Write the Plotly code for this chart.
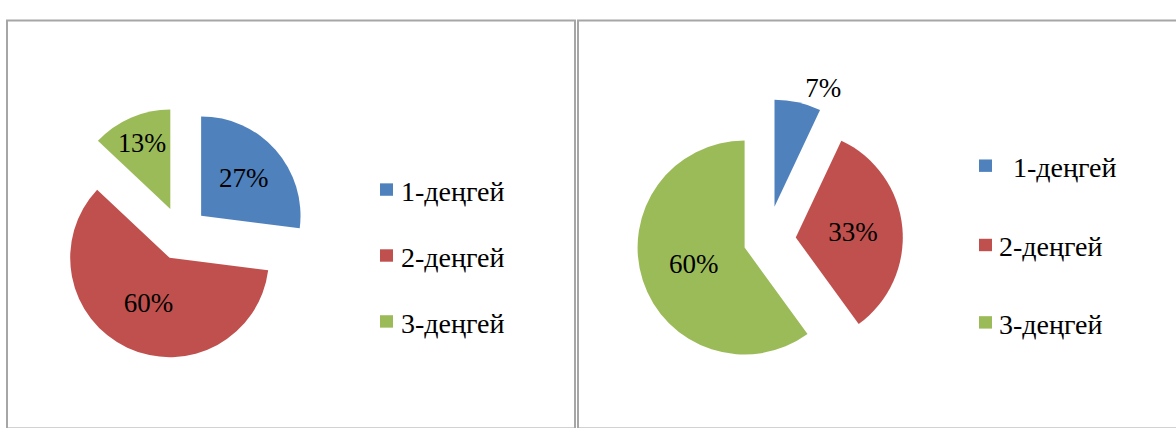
import plotly.graph_objects as go

# ---- data ----
categories = ["1-деңгей", "2-деңгей", "3-деңгей"]
left_values = [27, 60, 13]
right_values = [7, 33, 60]
right_legend_labels = ["\u00a0\u00a01-деңгей", "2-деңгей", "3-деңгей"]

# ---- styles ----
colors = ["#4F81BD", "#C0504D", "#9BBB59"]
left_pull = [0.27, 0.27, 0.27]
right_pull = [0.32, 0.27, 0.22]
W, H = 1176, 428
FONT = "Liberation Serif"


def px_x(x):
    return x / W


def px_y(y):
    return 1 - y / H


def square_domain(cx, cy, r, pull):
    half = r * (1 + max(pull))
    return dict(x=[px_x(cx - half), px_x(cx + half)],
                y=[px_y(cy + half), px_y(cy - half)])


fig = go.Figure()

fig.add_trace(go.Pie(
    labels=categories, values=left_values, sort=False, direction="clockwise",
    rotation=0, pull=left_pull,
    marker=dict(colors=colors, line=dict(width=0)),
    texttemplate="%{percent:.0%}", textposition="inside",
    insidetextorientation="horizontal",
    textfont=dict(family=FONT, size=27, color="black"),
    domain=square_domain(181, 236, 104, left_pull),
    showlegend=False, hoverinfo="label+percent",
))

fig.add_trace(go.Pie(
    labels=categories, values=right_values, sort=False, direction="clockwise",
    rotation=0, pull=right_pull,
    marker=dict(colors=colors, line=dict(width=0)),
    texttemplate="%{percent:.0%}", textposition=["outside", "inside", "inside"],
    insidetextorientation="horizontal",
    textfont=dict(family=FONT, size=27, color="black"),
    outsidetextfont=dict(family=FONT, size=27, color="black"),
    domain=square_domain(767, 243, 112, right_pull),
    showlegend=False, hoverinfo="label+percent",
))

shapes = []
annotations = []

# panel borders
border = dict(color="#A6A6A6", width=2)
shapes.append(dict(type="rect", xref="paper", yref="paper",
                   x0=px_x(7), x1=px_x(575), y0=px_y(440), y1=px_y(13),
                   line=border, fillcolor="rgba(0,0,0,0)", layer="below"))
shapes.append(dict(type="rect", xref="paper", yref="paper",
                   x0=px_x(578), x1=px_x(1190), y0=px_y(440), y1=px_y(13),
                   line=border, fillcolor="rgba(0,0,0,0)", layer="below"))


# legends (drawn as squares + text)
def add_legend(labels, sq_x, text_x, ys, size=13):
    for lab, col, yc in zip(labels, colors, ys):
        shapes.append(dict(type="rect", xref="paper", yref="paper",
                           x0=px_x(sq_x), x1=px_x(sq_x + size),
                           y0=px_y(yc + size / 2), y1=px_y(yc - size / 2),
                           line=dict(width=0), fillcolor=col))
        annotations.append(dict(text=lab, xref="paper", yref="paper",
                                x=px_x(text_x), y=px_y(yc + 2),
                                xanchor="left", yanchor="middle", showarrow=False,
                                font=dict(family=FONT, size=28, color="black")))


add_legend(categories, 380, 399, [190, 259, 328])
add_legend(right_legend_labels, 979, 997, [165, 248, 329])

fig.update_layout(
    width=W, height=H, margin=dict(l=0, r=0, t=0, b=0),
    paper_bgcolor="white", plot_bgcolor="white",
    shapes=shapes, annotations=annotations, showlegend=False,
)

fig.write_html("out.html", config={"displayModeBar": False},
               post_script="document.body.style.margin='0';")
